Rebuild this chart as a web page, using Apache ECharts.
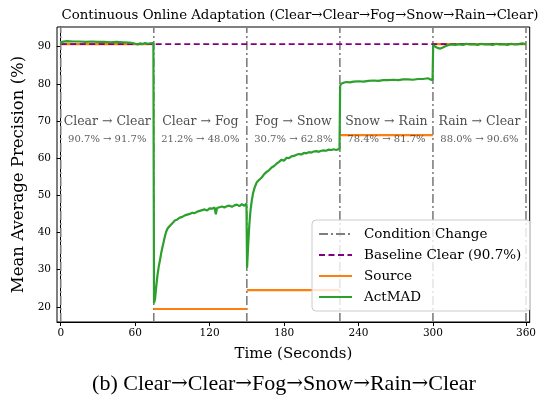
<!DOCTYPE html>
<html>
<head>
<meta charset="utf-8">
<script src="https://cdn.jsdelivr.net/npm/echarts@6/dist/echarts.min.js"></script>
<style>html,body{margin:0;padding:0;background:#fff;}#c{width:539px;height:395px;}</style>
</head>
<body>
<div id="c"></div>
<script>
// ---- data ----
const conditionTimes = [0, 75, 150, 225, 300, 375];
const xTickPositions = [0, 60, 120, 180, 240, 300, 375];
const xTickLabels = ['0', '60', '120', '180', '240', '300', '360'];
const yTicks = [20, 30, 40, 50, 60, 70, 80, 90];
const baselineClear = 90.7;
const sourceLevels = [90.7, 19.4, 24.5, 66.2, 90.7];
const captionSteps = ['Clear', 'Clear', 'Fog', 'Snow', 'Rain', 'Clear'];
const segmentTitles = ['Clear \u2192 Clear', 'Clear \u2192 Fog', 'Fog \u2192 Snow', 'Snow \u2192 Rain', 'Rain \u2192 Clear'];
const segmentScores = ['90.7% \u2192 91.7%', '21.2% \u2192 48.0%', '30.7% \u2192 62.8%', '78.4% \u2192 81.7%', '88.0% \u2192 90.6%'];
const actmad = [
  [0,90.7],[1,91.3],[2,91.5],[5,91.5],[10,91.4],[15,91.4],[20,91.3],[25,91.4],[30,91.3],[35,91.3],[40,91.2],[45,91.3],[50,91.2],[55,91.1],[58,91.0],[60,90.8],[62,90.6],[64,90.9],[66,90.7],[68,91.0],[70,90.8],[72,90.9],[74.7,91.0],
  [75.2,21.0],[76,22.0],[77,25.5],[78,28.5],[79,30.8],[80,32.5],[81,34.5],[82,36.0],[83,37.5],[84,39.0],[85,40.2],[86,41.0],[87,41.5],[88,41.8],[89,42.2],[90,42.5],[92,43.2],[94,43.5],[96,44.0],[98,44.2],[100,44.6],[102,44.8],[104,45.0],[106,45.3],[108,45.2],[110,45.6],[112,45.8],[114,46.0],[116,46.2],[118,45.9],[120,46.5],[122,46.4],[124,46.7],[125,44.9],[126,46.6],[128,46.8],[130,47.0],[132,46.7],[134,47.1],[136,47.2],[138,46.9],[140,47.3],[142,47.5],[144,47.1],[146,47.6],[148,47.2],[149.7,47.8],
  [150.2,30.5],[151,36.0],[152,42.0],[153,46.0],[154,48.6],[155,50.5],[156,51.8],[157,52.7],[158,53.5],[160,54.2],[162,54.8],[164,55.7],[166,56.3],[168,56.8],[170,57.5],[172,57.9],[174,58.5],[176,59.0],[178,59.6],[180,59.3],[182,60.1],[184,60.0],[186,60.5],[188,60.6],[190,60.9],[192,61.1],[194,61.0],[196,61.4],[198,61.3],[200,61.6],[202,61.5],[204,61.8],[206,61.9],[208,61.7],[210,62.0],[212,62.1],[214,62.0],[216,62.3],[218,62.2],[220,62.4],[222,62.2],[224.7,62.5],
  [225.2,79.4],[226,80.0],[228,80.3],[230,80.5],[233,80.4],[236,80.6],[240,80.7],[244,80.6],[248,80.8],[252,80.9],[256,80.8],[260,81.0],[264,81.0],[268,81.1],[272,81.0],[276,81.2],[280,81.2],[284,81.1],[288,81.3],[292,81.3],[296,81.5],[298,81.2],[299.7,81.0],
  [300.2,90.4],[302,90.0],[304,89.6],[306,89.5],[308,89.8],[310,90.1],[312,90.4],[315,90.6],[318,90.5],[321,90.7],[324,90.5],[327,90.8],[330,90.6],[333,90.7],[336,90.5],[339,90.8],[342,90.6],[345,90.7],[348,90.5],[351,90.8],[354,90.6],[357,90.7],[360,90.5],[363,90.8],[366,90.6],[369,90.7],[372,90.9],[375,90.7]
];

// ---- chart ----
const X_MIN = -3, X_MAX = 378, Y_MIN = 15.9, Y_MAX = 95.3;
const SERIF = 'DejaVu Serif';
const series = [];
const C_GRAY = '#7f7f7f', C_PURPLE = '#800080', C_ORANGE = '#ff7f0e', C_GREEN = '#2ca02c';
conditionTimes.forEach(t => {
  series.push({
    name: 'Condition Change', type: 'line', symbol: 'none', silent: true, z: 1, color: C_GRAY,
    data: [[t, Y_MIN], [t, Y_MAX]],
    lineStyle: { color: C_GRAY, width: 1.6, type: [9, 3, 2, 3] }
  });
});
series.push({
  name: 'Baseline Clear (90.7%)', type: 'line', symbol: 'none', silent: true, z: 3, color: C_PURPLE,
  data: [[0, baselineClear], [375, baselineClear]],
  lineStyle: { color: C_PURPLE, width: 1.6, type: [6, 3.5] }
});
sourceLevels.forEach((v, i) => {
  series.push({
    name: 'Source', type: 'line', symbol: 'none', silent: true, z: 2, color: C_ORANGE,
    data: [[conditionTimes[i], v], [conditionTimes[i + 1], v]],
    lineStyle: { color: C_ORANGE, width: 2.2 }
  });
});
series.push({
  name: 'ActMAD', type: 'line', symbol: 'none', silent: true, z: 4, color: C_GREEN,
  data: actmad,
  lineStyle: { color: C_GREEN, width: 2.2 }
});
const labelData1 = segmentTitles.map((s, i) => ({ name: s, value: [(conditionTimes[i] + conditionTimes[i + 1]) / 2, 69.9] }));
const labelData2 = segmentScores.map((s, i) => ({ name: s, value: [(conditionTimes[i] + conditionTimes[i + 1]) / 2, 65.0] }));
series.push({
  type: 'scatter', symbolSize: 0, silent: true, z: 5, data: labelData1,
  label: { show: true, position: 'inside', formatter: p => p.name, fontFamily: SERIF, fontSize: 12.5, color: '#222' }
});
series.push({
  type: 'scatter', symbolSize: 0, silent: true, z: 5, data: labelData2,
  label: { show: true, position: 'inside', formatter: p => p.name, fontFamily: SERIF, fontSize: 10, color: '#333' }
});

const captionText = '{t|(b) }' + captionSteps.map(s => '{t|' + s + '}').join('{a|\u2192}');

const chart = echarts.init(document.getElementById('c'), null, { renderer: 'canvas' });
chart.setOption({
  animation: false,
  backgroundColor: '#fff',
  title: [
    { text: 'Continuous Online Adaptation (Clear\u2192Clear\u2192Fog\u2192Snow\u2192Rain\u2192Clear)', left: 295, top: 4, textAlign: 'center',
      textStyle: { fontFamily: SERIF, fontSize: 13.3, fontWeight: 'normal', color: '#000' } },
    { text: captionText, left: 279, top: 368, textAlign: 'center',
      textStyle: { fontFamily: 'Liberation Serif', fontSize: 22, fontWeight: 'normal', color: '#000',
        rich: {
          t: { fontFamily: 'Liberation Serif', fontSize: 22, color: '#000' },
          a: { fontFamily: 'DejaVu Serif', fontSize: 20, color: '#000' }
        } } }
  ],
  grid: { left: 57, right: 7, top: 27, bottom: 73, show: true, borderColor: '#000', borderWidth: 1, backgroundColor: 'transparent' },
  legend: {
    orient: 'vertical', left: 312, top: 220, itemWidth: 33, itemHeight: 12, itemGap: 7,
    padding: [7, 9, 7, 6],
    data: ['Condition Change', 'Baseline Clear (90.7%)', 'Source', 'ActMAD'],
    itemStyle: { opacity: 0 },
    textStyle: { fontFamily: SERIF, fontSize: 13.5, color: '#000', padding: [0, 0, 0, 7] },
    backgroundColor: 'rgba(255,255,255,0.8)', borderColor: '#cccccc', borderWidth: 1, borderRadius: 4
  },
  xAxis: {
    type: 'value', min: X_MIN, max: X_MAX,
    name: 'Time (Seconds)', nameLocation: 'middle', nameGap: 25,
    nameTextStyle: { fontFamily: SERIF, fontSize: 15, color: '#000' },
    axisLine: { show: true, lineStyle: { color: '#000', width: 1 } },
    axisTick: { show: true, inside: false, length: 4, customValues: xTickPositions, lineStyle: { color: '#000' } },
    axisLabel: { show: true, customValues: xTickPositions, formatter: v => xTickLabels[xTickPositions.indexOf(v)], fontFamily: SERIF, fontSize: 10.5, color: '#000', margin: 6 },
    splitLine: { show: false }
  },
  yAxis: {
    type: 'value', min: Y_MIN, max: Y_MAX,
    name: 'Mean Average Precision (%)', nameLocation: 'middle', nameGap: 29,
    nameTextStyle: { fontFamily: SERIF, fontSize: 16.5, color: '#000' },
    axisLine: { show: true, lineStyle: { color: '#000', width: 1 } },
    axisTick: { show: true, inside: false, length: 4, customValues: yTicks, lineStyle: { color: '#000' } },
    axisLabel: { show: true, customValues: yTicks, fontFamily: SERIF, fontSize: 10.5, color: '#000', margin: 6 },
    splitLine: { show: false }
  },
  series: series
});
</script>
</body>
</html>
